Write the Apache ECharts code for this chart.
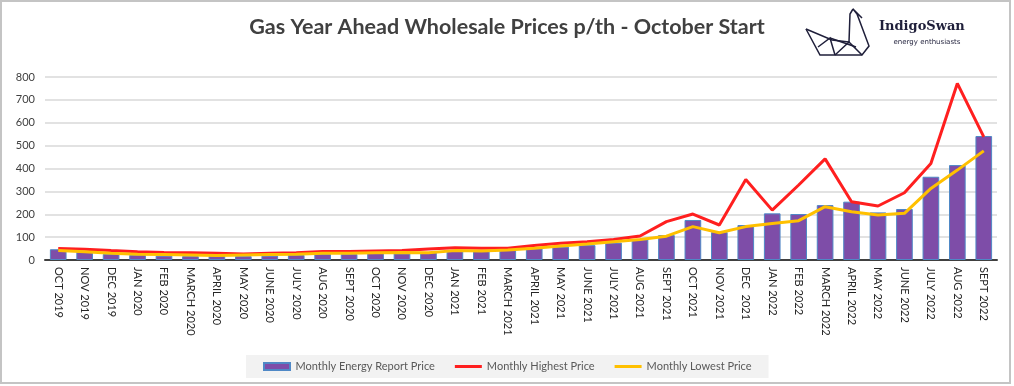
<!DOCTYPE html>
<html>
<head>
<meta charset="utf-8">
<script src="https://cdn.jsdelivr.net/npm/echarts@6/dist/echarts.min.js"></script>
<style>
  html, body { margin: 0; padding: 0; background: #ffffff; }
  #chart { width: 1014px; height: 386px; }
</style>
</head>
<body>
<div id="chart"></div>
<script>
const categories = ['OCT 2019','NOV 2019','DEC 2019','JAN 2020','FEB 2020','MARCH 2020','APRIL 2020','MAY 2020','JUNE 2020','JULY 2020','AUG 2020','SEPT 2020','OCT 2020','NOV 2020','DEC 2020','JAN 2021','FEB 2021','MARCH 2021','APRIL 2021','MAY 2021','JUNE 2021','JULY 2021','AUG 2021','SEPT 2021','OCT 2021','NOV 2021','DEC  2021','JAN 2022','FEB 2022','MARCH 2022','APRIL 2022','MAY 2022','JUNE 2022','JULY 2022','AUG 2022','SEPT 2022'];
const reportPrice = [47,36,26,22,19,17,17,17,19,22,26,26,32,29,33,44,39,44,51,58,65,76,90,109,175,122,153,204,201,240,255,208,223,364,415,542];
const highestPrice = [50,47,41,36,33,32,29,26,29,32,37,37,39,41,48,54,51,51,63,73,80,90,105,168,201,153,352,218,328,442,255,236,294,422,772,538];
const lowestPrice = [41,36,29,25,24,22,20,22,24,25,29,29,32,33,32,41,39,44,51,61,70,80,90,104,146,119,146,160,172,233,211,197,204,313,393,477];
const yTicks = { min: 0, max: 800, interval: 100 };
const titleText = 'Gas Year Ahead Wholesale Prices p/th - October Start';
const seriesNames = ['Monthly Energy Report Price', 'Monthly Highest Price', 'Monthly Lowest Price'];

const chart = echarts.init(document.getElementById('chart'), null, { renderer: 'canvas' });
const swanColor = '#1f1f3a';
const swanLines = [
  [[806,29],[820,55],[862,55],[869,46],[857,14],[853,9],[862,18]],
  [[853,9],[850,14],[849,42]],
  [[806,29],[832,40],[849,42]],
  [[818,47],[830,38],[835,55]],
  [[830,38],[856,47]],
  [[835,55],[849,42],[862,55]]
];
const graphics = [
  { type: 'rect', shape: { x: 1, y: 1, width: 1009, height: 382 }, style: { fill: 'none', stroke: '#c4c4c4', lineWidth: 2 }, silent: true },
  { type: 'text', x: 507, y: 27, style: { text: titleText, fill: '#404040', font: 'bold 21.5px Lato', align: 'center', verticalAlign: 'middle' } },
  { type: 'text', x: 879, y: 27, style: { text: 'IndigoSwan', fill: swanColor, font: 'bold 13px "DejaVu Serif"', align: 'left', verticalAlign: 'middle' } },
  { type: 'text', x: 927, y: 42, style: { text: 'energy enthusiasts', fill: swanColor, font: '7px "DejaVu Sans"', align: 'center', verticalAlign: 'middle' } }
];
swanLines.forEach(p => graphics.push({ type: 'polyline', shape: { points: p }, style: { stroke: swanColor, lineWidth: 1.5, fill: 'none' }, silent: true }));

const lineIcon = 'path://M0,0h27v3h-27z';
const barIcon = 'path://M0,0h26v7h-26z';

chart.setOption({
  animation: false,
  backgroundColor: '#ffffff',
  textStyle: { fontFamily: 'Lato' },
  graphic: graphics,
  grid: { left: 45, right: 17, top: 77, bottom: 126, containLabel: false },
  legend: {
    data: [
      { name: seriesNames[0], icon: barIcon },
      { name: seriesNames[1], icon: lineIcon },
      { name: seriesNames[2], icon: lineIcon }
    ],
    left: 246, top: 355,
    padding: [6, 17],
    backgroundColor: '#f2f2f2',
    itemWidth: 27, itemHeight: 7, itemGap: 20,
    textStyle: { fontSize: 11, color: '#595959', fontFamily: 'Lato' }
  },
  xAxis: {
    type: 'category',
    data: categories,
    boundaryGap: true,
    axisLine: { lineStyle: { color: '#404040', width: 2 } },
    axisTick: { show: false },
    axisLabel: { rotate: -90, interval: 0, fontSize: 11, color: '#262626', margin: 7, fontFamily: 'Lato' }
  },
  yAxis: {
    type: 'value',
    min: yTicks.min, max: yTicks.max, interval: yTicks.interval,
    axisLine: { show: false },
    axisTick: { show: false },
    axisLabel: { fontSize: 11, color: '#404040', margin: 10, fontFamily: 'Lato' },
    splitLine: { lineStyle: { color: '#d9d9d9', width: 1.5 } }
  },
  series: [
    { name: seriesNames[0], type: 'bar', data: reportPrice, barWidth: '63%',
      itemStyle: { color: '#7e4da8', borderColor: '#4f88c6', borderWidth: 1 } },
    { name: seriesNames[1], type: 'line', data: highestPrice, symbol: 'none',
      lineStyle: { color: '#ff1f1f', width: 3 }, itemStyle: { color: '#ff1f1f' } },
    { name: seriesNames[2], type: 'line', data: lowestPrice, symbol: 'none',
      lineStyle: { color: '#ffc000', width: 3 }, itemStyle: { color: '#ffc000' } }
  ]
});
</script>
</body>
</html>
